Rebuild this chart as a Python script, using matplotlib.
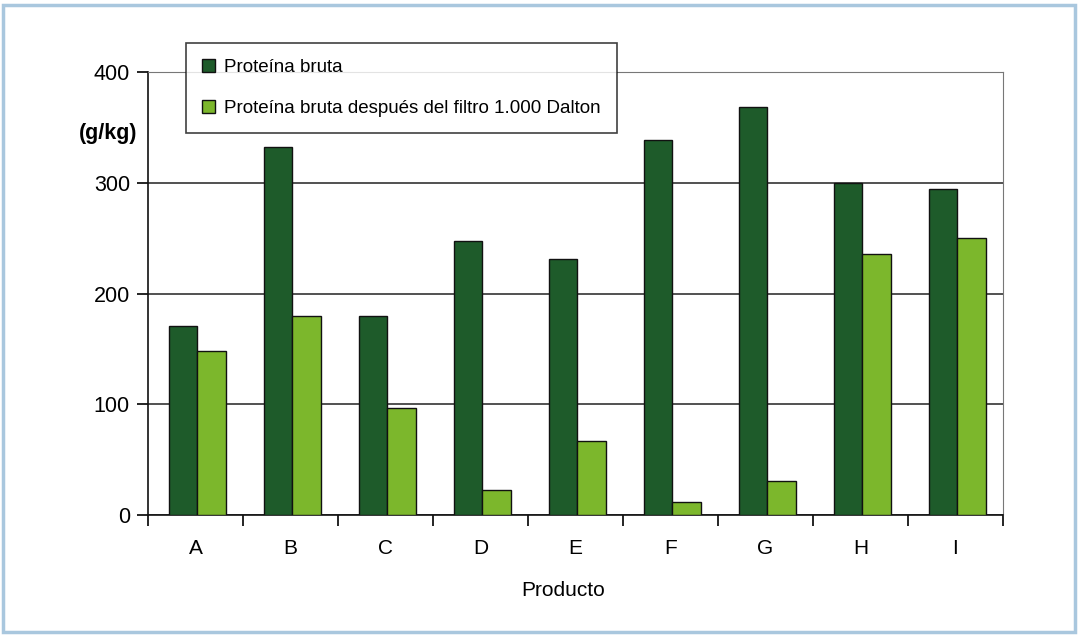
import numpy as np
import matplotlib.pyplot as plt
from matplotlib.patches import Rectangle
from matplotlib.ticker import FixedLocator

productos = ['A', 'B', 'C', 'D', 'E', 'F', 'G', 'H', 'I']
proteina_bruta = [171, 332, 180, 247, 231, 339, 368, 300, 294]
proteina_filtro = [148, 180, 97, 23, 67, 12, 31, 236, 250]

plt.rcParams['font.family'] = ['Liberation Sans', 'DejaVu Sans']

dark = '#1e5b2a'
light = '#7cb72c'

fig = plt.figure(figsize=(10.78, 6.44), dpi=100)
fig.patches.append(Rectangle((0.003, 0.018), 0.994, 0.974, transform=fig.transFigure,
                             fill=False, edgecolor='#a9c7de', linewidth=2.5))
ax = fig.add_axes([0.1373, 0.2003, 0.7931, 0.6879])

x = np.arange(len(productos))
w = 0.3
ax.bar(x - w / 2 + 0.02, proteina_bruta, w, color=dark, edgecolor='#111111', linewidth=1,
       label='Proteína bruta', zorder=3)
ax.bar(x + w / 2 + 0.02, proteina_filtro, w, color=light, edgecolor='#111111', linewidth=1,
       label='Proteína bruta después del filtro 1.000 Dalton', zorder=3)

ax.set_xlim(-0.5, len(productos) - 0.5)
ax.set_ylim(0, 400)
ax.set_yticks([0, 100, 200, 300, 400])
ax.yaxis.grid(True, color='#333333', linewidth=1.2, zorder=0)
ax.set_axisbelow(True)

ax.set_xticks(x)
ax.set_xticklabels(productos, fontsize=15)
ax.xaxis.set_minor_locator(FixedLocator(np.arange(-0.5, len(productos), 1)))
ax.tick_params(axis='x', which='major', length=0, pad=17)
ax.tick_params(axis='x', which='minor', length=8, width=1.2, direction='out')
ax.tick_params(axis='y', length=8, width=1.2, labelsize=15.5, pad=5)

ax.spines['left'].set_color('#111111')
ax.spines['bottom'].set_color('#111111')
ax.spines['left'].set_linewidth(1.2)
ax.spines['bottom'].set_linewidth(1.2)
ax.spines['right'].set_color('#777777')
ax.spines['top'].set_color('#777777')

ax.set_xlabel('Producto', fontsize=15)
ax.xaxis.set_label_coords(0.485, -0.15)
fig.text(0.1, 0.793, '(g/kg)', fontsize=15.5, fontweight='bold', ha='center', va='center')

leg = ax.legend(loc='upper left', bbox_to_anchor=(0.1725, 0.9332), bbox_transform=fig.transFigure,
                fontsize=13.5, frameon=True, fancybox=False, edgecolor='#111111',
                handlelength=0.7, handleheight=0.7, handletextpad=0.5,
                labelspacing=1.25, borderpad=0.85, borderaxespad=0)
leg.get_frame().set_linewidth(1.2)
leg.set_zorder(5)

fig.savefig('out.png', dpi=100, facecolor='white')
